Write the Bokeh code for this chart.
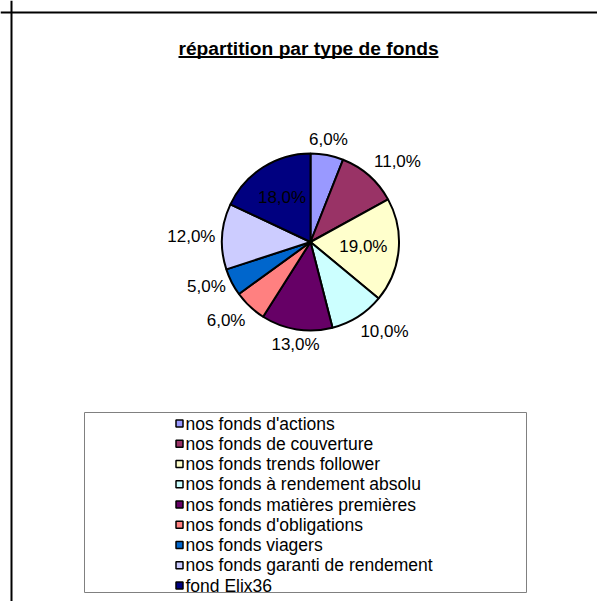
import math
from bokeh.plotting import figure
from bokeh.models import ColumnDataSource, Range1d, Span, BoxAnnotation
from bokeh.core.properties import value
from bokeh.embed import file_html
from bokeh.resources import INLINE

title_text = "répartition par type de fonds"
categories = [
    "nos fonds d'actions",
    "nos fonds de couverture",
    "nos fonds trends follower",
    "nos fonds à rendement absolu",
    "nos fonds matières premières",
    "nos fonds d'obligations",
    "nos fonds viagers",
    "nos fonds garanti de rendement",
    "fond Elix36",
]
shares = [6.0, 11.0, 19.0, 10.0, 13.0, 6.0, 5.0, 12.0, 18.0]
colors = ["#9999FF", "#993366", "#FFFFCC", "#CCFFFF", "#660066",
          "#FF8080", "#0066CC", "#CCCCFF", "#000080"]

W, H = 597, 601
FONT = value("Liberation Sans")


def Y(py):
    return H - py


p = figure(width=W, height=H, output_backend="svg", toolbar_location=None,
           x_range=Range1d(0, W), y_range=Range1d(0, H), min_border=0)
p.axis.visible = False
p.grid.visible = False
p.outline_line_color = None
p.background_fill_color = "white"
p.border_fill_color = "white"

# title
p.text(x=[308], y=[Y(48)], text=[title_text], text_font=FONT,
       text_font_size="19.2px", text_font_style="bold",
       text_align="center", text_baseline="middle", text_color="black")

# outer chart border (right and bottom edges lie outside the page)
p.add_layout(Span(location=Y(12), dimension="width", line_color="black", line_width=2))
p.add_layout(Span(location=11, dimension="height", line_color="black", line_width=2))
# title underline
p.add_layout(BoxAnnotation(left=178, right=438, top=Y(55.5), bottom=Y(57.5),
                           fill_color="black", fill_alpha=1.0, line_color=None))

# pie
cx, cy, r = 310, Y(241.5), 88.5
total = sum(shares)
starts, ends, lx, ly, labels = [], [], [], [], []
cum = 0.0
fs_label = 17
gap = 7


def ramp(t, lo, span):
    m = max(0.0, min(1.0, (abs(t) - lo) / span))
    return math.copysign(m, t)


for v in shares:
    a0 = math.pi / 2 - 2 * math.pi * (cum + v) / total
    a1 = math.pi / 2 - 2 * math.pi * cum / total
    starts.append(a0)
    ends.append(a1)
    mid = (a0 + a1) / 2
    lab = ("%.1f%%" % v).replace(".", ",")
    labels.append(lab)
    c, s = math.cos(mid), math.sin(mid)
    if v / total >= 0.15:
        lx.append(cx + 0.6 * r * c)
        ly.append(cy + 0.6 * r * s)
    else:
        hw = len(lab) * 0.56 * fs_label / 2
        hh = 8.5
        lx.append(cx + (r + gap) * c + hw * ramp(c, 0.2, 0.35))
        ly.append(cy + (r + gap) * s + hh * ramp(s, 0.4, 0.3))
    cum += v

src = ColumnDataSource(dict(start=starts, end=ends, color=colors, cat=categories))
p.wedge(x=cx, y=cy, radius=r, start_angle="start", end_angle="end",
        fill_color="color", line_color="black", line_width=2, source=src)
p.text(x=lx, y=ly, text=labels, text_font=FONT, text_font_size="17px",
       text_align="center", text_baseline="middle", text_color="black")

# legend box
p.add_layout(BoxAnnotation(left=84, right=526, top=Y(412), bottom=Y(592),
                           fill_color="white", fill_alpha=1.0,
                           line_color="#808080", line_alpha=1.0, line_width=1,
                           level="underlay"))
row_y = [Y(423 + i * 20.25) for i in range(len(categories))]
p.rect(x=[179] * len(categories), y=row_y, width=7, height=7,
       fill_color=colors, line_color="black", line_width=1.5)
p.text(x=[185] * len(categories), y=row_y, text=categories, text_font=FONT,
       text_font_size="17.5px", text_align="left", text_baseline="middle",
       text_color="black")

open("out.html", "w").write(file_html(p, INLINE))
